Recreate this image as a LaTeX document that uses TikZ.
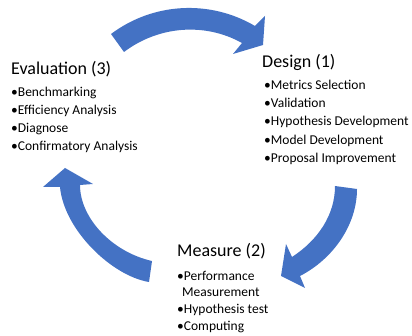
\documentclass[tikz,border=0pt]{standalone}
\usepackage{fontspec}
\setmainfont{Carlito}
\definecolor{cycleblue}{HTML}{4472C4}
\begin{document}
\begin{tikzpicture}[x=1pt,y=-1pt,
  heading/.style={anchor=base west,inner sep=0pt,font=\fontsize{18}{22}\selectfont},
  item/.style={anchor=base west,inner sep=0pt,font=\fontsize{13.5}{16}\selectfont},
  cyclearrow/.style={fill=cycleblue,draw=none}]
\useasboundingbox (0,0) rectangle (412,336);

% curved block arrows of the cycle
% Evaluation -> Design
\fill[cyclearrow] (111,34) .. controls (153,2.5) and (209.7,-0.7) .. (255,26)
  -- (265,16) -- (263,45) -- (233,54) -- (242,43)
  .. controls (204.5,22.1) and (158.2,26.1) .. (124,52) -- cycle;
% Design -> Measure
\fill[cyclearrow] (335,186) -- (357,189) .. controls (357,225) and (333,259) .. (300,276)
  -- (305,288) -- (281,276) -- (286,244) -- (292,257)
  .. controls (318,240) and (335,215) .. (335,186) -- cycle;
% Measure -> Evaluation
\fill[cyclearrow] (152,261) -- (149,282) .. controls (112,276) and (64,230) .. (60,187)
  -- (43,187) -- (65,168) -- (93,184) -- (80,185)
  .. controls (80,218) and (112,252) .. (152,261) -- cycle;

% Design (1)
\node[heading] (design) at (262,67.3) {Design (1)};
\node[item] (d1) at (264,89.5) {•Metrics Selection};
\node[item] (d2) at (264,107.7) {•Validation};
\node[item] (d3) at (264,125.9) {•Hypothesis Development};
\node[item] (d4) at (264,144.1) {•Model Development};
\node[item] (d5) at (264,162.3) {•Proposal Improvement};

% Evaluation (3)
\node[heading] (evaluation) at (11,75) {Evaluation (3)};
\node[item] (e1) at (11,96.7) {•Benchmarking};
\node[item] (e2) at (11,114.8) {•Efficiency Analysis};
\node[item] (e3) at (11,132.8) {•Diagnose};
\node[item] (e4) at (11,150.8) {•Confirmatory Analysis};

% Measure (2)
\node[heading] (measure) at (177,256.7) {Measure (2)};
\node[item] (m1) at (177,281) {•Performance};
\node[item] (m1b) at (182,296.5) {Measurement};
\node[item] (m2) at (177,313.5) {•Hypothesis test};
\node[item] (m3) at (177,330.5) {•Computing};
\end{tikzpicture}
\end{document}
